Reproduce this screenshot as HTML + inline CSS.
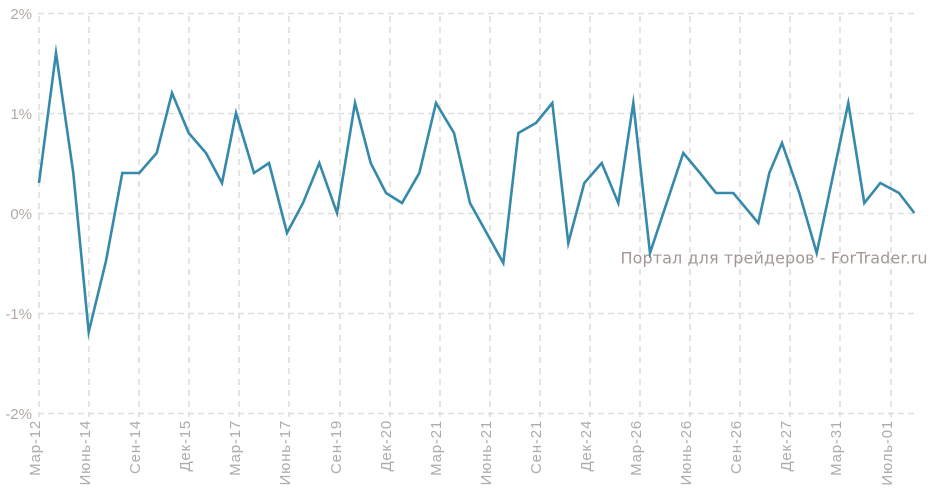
<!DOCTYPE html>
<html>
<head>
<meta charset="utf-8">
<style>
  html,body{margin:0;padding:0;background:#fff;}
  svg{display:block;}
  .yl{font-family:"Liberation Sans",Arial,sans-serif;font-size:15px;fill:#b3aaa3;}
  .xl{font-family:"Liberation Sans",Arial,sans-serif;font-size:15px;fill:#acacac;letter-spacing:0.8px;}
  .wm{font-family:"DejaVu Sans","Liberation Sans",sans-serif;font-size:16px;fill:#a39793;}
</style>
</head>
<body>
<svg width="936" height="495" viewBox="0 0 936 495" xmlns="http://www.w3.org/2000/svg">
  <rect width="936" height="495" fill="#fff"/>
  <!-- horizontal grid -->
  <g stroke="#dedede" stroke-width="1.6" stroke-dasharray="6,4" fill="none">
    <line x1="38" y1="13.5" x2="916" y2="13.5"/>
    <line x1="38" y1="113.5" x2="916" y2="113.5"/>
    <line x1="38" y1="213.5" x2="916" y2="213.5"/>
    <line x1="38" y1="313.5" x2="916" y2="313.5"/>
    <line x1="38" y1="413.5" x2="916" y2="413.5"/>
  </g>
  <!-- vertical grid -->
  <g stroke="#dedede" stroke-width="1.6" stroke-dasharray="6,5" fill="none">
    <line x1="39" y1="16" x2="39" y2="417"/>
    <line x1="89" y1="16" x2="89" y2="417"/>
    <line x1="139" y1="16" x2="139" y2="417"/>
    <line x1="189" y1="16" x2="189" y2="417"/>
    <line x1="239" y1="16" x2="239" y2="417"/>
    <line x1="289" y1="16" x2="289" y2="417"/>
    <line x1="340" y1="16" x2="340" y2="417"/>
    <line x1="390" y1="16" x2="390" y2="417"/>
    <line x1="440" y1="16" x2="440" y2="417"/>
    <line x1="490" y1="16" x2="490" y2="417"/>
    <line x1="540" y1="16" x2="540" y2="417"/>
    <line x1="590" y1="16" x2="590" y2="417"/>
    <line x1="640" y1="16" x2="640" y2="417"/>
    <line x1="690" y1="16" x2="690" y2="417"/>
    <line x1="740" y1="16" x2="740" y2="417"/>
    <line x1="790" y1="16" x2="790" y2="417"/>
    <line x1="840" y1="16" x2="840" y2="417"/>
    <line x1="891" y1="16" x2="891" y2="417"/>
  </g>
  <!-- y labels -->
  <g class="yl" text-anchor="end">
    <text x="32" y="19">2%</text>
    <text x="32" y="119">1%</text>
    <text x="32" y="219">0%</text>
    <text x="32" y="319">-1%</text>
    <text x="32" y="419">-2%</text>
  </g>
  <!-- x labels -->
  <g class="xl" text-anchor="end">
    <text transform="translate(40,420) rotate(-90)">Мар-12</text>
    <text transform="translate(90,420) rotate(-90)">Июнь-14</text>
    <text transform="translate(140,420) rotate(-90)">Сен-14</text>
    <text transform="translate(190,420) rotate(-90)">Дек-15</text>
    <text transform="translate(240,420) rotate(-90)">Мар-17</text>
    <text transform="translate(290,420) rotate(-90)">Июнь-17</text>
    <text transform="translate(341,420) rotate(-90)">Сен-19</text>
    <text transform="translate(391,420) rotate(-90)">Дек-20</text>
    <text transform="translate(441,420) rotate(-90)">Мар-21</text>
    <text transform="translate(491,420) rotate(-90)">Июнь-21</text>
    <text transform="translate(541,420) rotate(-90)">Сен-21</text>
    <text transform="translate(591,420) rotate(-90)">Дек-24</text>
    <text transform="translate(641,420) rotate(-90)">Мар-26</text>
    <text transform="translate(691,420) rotate(-90)">Июнь-26</text>
    <text transform="translate(741,420) rotate(-90)">Сен-26</text>
    <text transform="translate(791,420) rotate(-90)">Дек-27</text>
    <text transform="translate(841,420) rotate(-90)">Мар-31</text>
    <text transform="translate(892,420) rotate(-90)">Июль-01</text>
  </g>
  <!-- watermark -->
  <text class="wm" x="620.5" y="263.5" textLength="307" lengthAdjust="spacing">Портал для трейдеров - ForTrader.ru</text>
  <!-- series -->
  <polyline fill="none" stroke="#3589ab" stroke-width="2.6" stroke-linejoin="miter" stroke-miterlimit="10"
    points="39,183 56,53 73.3,173 88.7,332 106,261 122.3,173 139.3,173 156.7,153 172,93 188.7,133 206,153 222,183 236,113 254,173 269,163 287,233 303,203 319.3,163 337,213 355,103 370.7,163 386,193 402,203 419.3,173 436,103 454,133 470,203 503.3,263 518.3,133 536,123 552.3,103 568.3,243 584.3,183 601.7,163 618.3,203 633.3,103 650,253 683.3,153 700,173 716,193 733.3,193 758.3,223 769.3,173 782,143 799.3,193 816.7,253 848.3,103 864.3,203 880.3,183 899,193 914.3,213"/>
</svg>
</body>
</html>
